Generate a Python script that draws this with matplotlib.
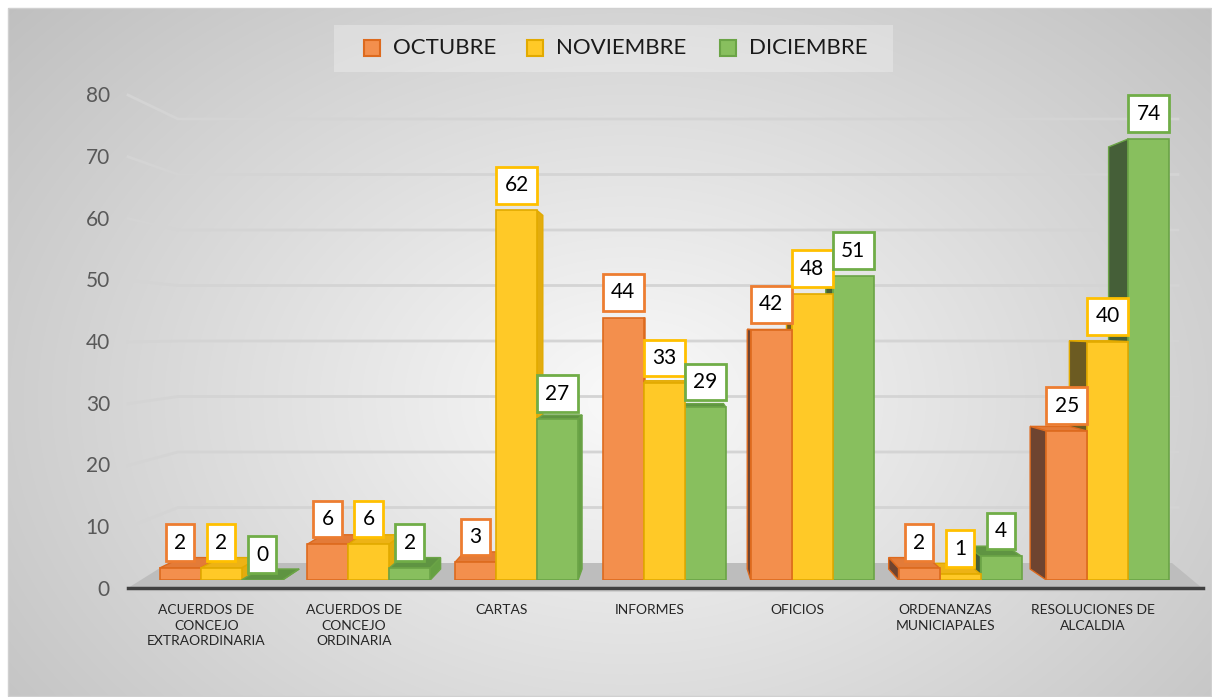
import numpy as np
import matplotlib
matplotlib.use("Agg")
import matplotlib.pyplot as plt
from matplotlib.patches import Polygon, Rectangle

categories = [
    "ACUERDOS DE\nCONCEJO\nEXTRAORDINARIA",
    "ACUERDOS DE\nCONCEJO\nORDINARIA",
    "CARTAS",
    "INFORMES",
    "OFICIOS",
    "ORDENANZAS\nMUNICIAPALES",
    "RESOLUCIONES DE\nALCALDIA",
]
series = ["OCTUBRE", "NOVIEMBRE", "DICIEMBRE"]
octubre = [2, 6, 3, 44, 42, 2, 25]
noviembre = [2, 6, 62, 33, 48, 1, 40]
diciembre = [0, 2, 27, 29, 51, 4, 74]
yticks = [0, 10, 20, 30, 40, 50, 60, 70, 80]

values = [octubre, noviembre, diciembre]

# colours: front, top, left side (shadow), right side (lit), edge, label border
front_c = ["#F38F4D", "#FFC927", "#88BF5E"]
top_c = ["#E37B38", "#EDB315", "#5F9442"]
lside_c = ["#6F4430", "#6C5B22", "#455F38"]
rside_c = ["#DC7330", "#E3AC0E", "#66A044"]
edge_c = ["#DD6A1E", "#E2AA00", "#6BA446"]
lab_c = ["#ED7D31", "#FFC000", "#70AD47"]

W, H = 1212, 697
fig = plt.figure(figsize=(W / 100, H / 100), dpi=100)

# background layer in pixel coordinates
bg = fig.add_axes([0, 0, 1, 1])
bg.set_xlim(0, W)
bg.set_ylim(H, 0)
bg.axis("off")
gx, gy = np.meshgrid(np.linspace(8, W, 400), np.linspace(8, H, 240))
r = np.sqrt(((gx - 630) / 650) ** 2 + ((gy - 400) / 470) ** 2)
shade = np.clip(250 - 46 * r, 185, 252) / 255.0
bg.imshow(np.dstack([shade, shade, shade]), extent=(8, W, H, 8), aspect="auto",
          interpolation="bilinear", zorder=0)
bg.add_patch(Rectangle((8, 8), W - 9, H - 9, fill=False, ec="#D0D0D0", lw=1, zorder=1))

# gridlines (back wall + left wall)
for v in yticks[1:]:
    yf = 589 - 6.175 * v
    yb = 563 - 5.55 * v
    bg.plot([128, 178, 1178], [yf, yb, yb], color="#D4D4D4", lw=2, zorder=2,
            solid_joinstyle="miter")
# floor
bg.add_patch(Polygon([(128, 588), (1202, 588), (1172, 563), (168, 563)],
                     closed=True, fc="#BDBDBD", ec="none", zorder=2))
bg.plot([128, 1203], [590, 590], color="#D0D0D0", lw=3, zorder=2)
bg.plot([128, 1203], [588, 588], color="#404040", lw=2.5, zorder=3)

for v in yticks:
    bg.text(110, 590 - 6.175 * v, str(v), ha="right", va="center",
            fontsize=15, color="#595959", family="Lato")

# legend
bg.add_patch(Rectangle((334, 25), 559, 47, fc="white", alpha=0.28, ec="none", zorder=3))
leg_x = [364, 527, 720]
for j, name in enumerate(series):
    bg.add_patch(Rectangle((leg_x[j], 40), 16, 16, fc=front_c[j], ec=edge_c[j],
                           lw=1.5, zorder=4))
    bg.text(leg_x[j] + 29, 48.5, name, ha="left", va="center", fontsize=16,
            color="#1A1A1A", family="Lato", zorder=4)

# main axes: value 0 at y=580 px, 5.96 px per unit; category pitch 147.8 px
ymax = 85
ax = fig.add_axes([120 / W, (H - 580) / H, 1080 / W, ymax * 5.96 / H])
ax.set_xlim((120 - 221) / 147.8, (1200 - 221) / 147.8)
ax.set_ylim(0, ymax)
ax.axis("off")
ax.patch.set_alpha(0)

vpx = (670 - 221) / 147.8
vpy = (580 - 324) / 5.96
s = 0.957


def back(x, y):
    return (vpx + s * (x - vpx), vpy + s * (y - vpy))


bw = 41 / 147.8
x = np.arange(len(categories))
for j in range(3):
    for i, h in enumerate(values[j]):
        cx = x[i] + (j - 1) * bw
        x0, x1 = cx - bw / 2, cx + bw / 2
        z = 5 - abs(cx - vpx) * 0.3
        faces = []
        if h < vpy:
            faces.append(([(x0, h), (x1, h), back(x1, h), back(x0, h)], top_c[j]))
        if x0 > vpx:
            faces.append(([(x0, 0), (x0, h), back(x0, h), back(x0, 0)], lside_c[j]))
        if x1 < vpx:
            faces.append(([(x1, 0), (x1, h), back(x1, h), back(x1, 0)], rside_c[j]))
        for pts, col in faces:
            ax.add_patch(Polygon(pts, closed=True, fc=col, ec=edge_c[j], lw=1,
                                 zorder=z))
        if h > 0:
            ax.bar(cx, h, width=bw, color=front_c[j], edgecolor=edge_c[j], lw=1.2,
                   zorder=z + 0.01)
        ax.annotate(str(h), xy=(cx, h), xytext=(0, 11), textcoords="offset points",
                    ha="center", va="bottom", fontsize=15, family="Lato",
                    color="black", zorder=20,
                    bbox=dict(boxstyle="square,pad=0.4", fc="white",
                              ec=lab_c[j], lw=2))

for i, name in enumerate(categories):
    ax.text(x[i] - 0.1, -4.0, name, ha="center", va="top", fontsize=10,
            family="Lato", color="#262626", linespacing=1.38, clip_on=False)

fig.savefig("out.png", dpi=100)
